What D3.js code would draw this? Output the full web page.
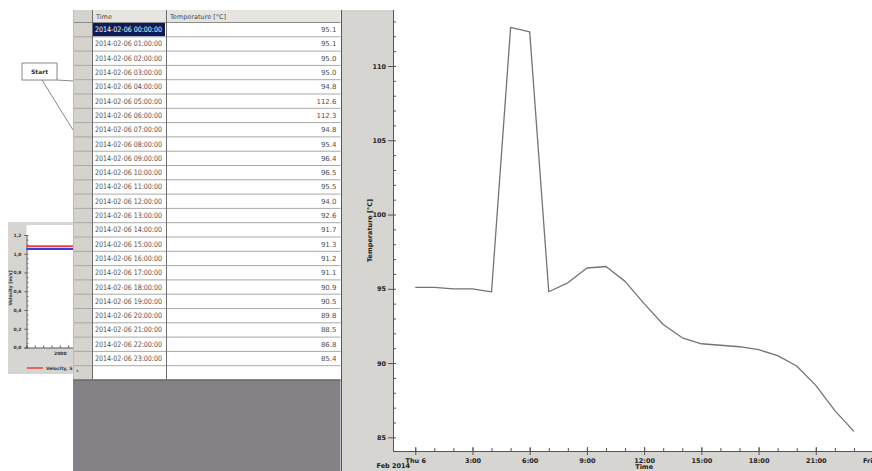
<!DOCTYPE html>
<html>
<head>
<meta charset="utf-8">
<script src="https://cdn.jsdelivr.net/npm/d3@7"></script>
<style>
  body { margin: 0; background: #fff; }
  svg { display: block; }
  text { font-family: "DejaVu Sans", sans-serif; }
</style>
</head>
<body>
<div id="chart"></div>
<script>
// table / series data
const times = [
  '2014-02-06 00:00:00', '2014-02-06 01:00:00', '2014-02-06 02:00:00', '2014-02-06 03:00:00',
  '2014-02-06 04:00:00', '2014-02-06 05:00:00', '2014-02-06 06:00:00', '2014-02-06 07:00:00',
  '2014-02-06 08:00:00', '2014-02-06 09:00:00', '2014-02-06 10:00:00', '2014-02-06 11:00:00',
  '2014-02-06 12:00:00', '2014-02-06 13:00:00', '2014-02-06 14:00:00', '2014-02-06 15:00:00',
  '2014-02-06 16:00:00', '2014-02-06 17:00:00', '2014-02-06 18:00:00', '2014-02-06 19:00:00',
  '2014-02-06 20:00:00', '2014-02-06 21:00:00', '2014-02-06 22:00:00', '2014-02-06 23:00:00'
]
const temps = [95.1, 95.1, 95.0, 95.0, 94.8, 112.6, 112.3, 94.8, 95.4, 96.4, 96.5, 95.5,
  94.0, 92.6, 91.7, 91.3, 91.2, 91.1, 90.9, 90.5, 89.8, 88.5, 86.8, 85.4]
const yMajorTicks = [85, 90, 95, 100, 105, 110]
const yMinorTicks = [85, 86, 87, 88, 89, 90, 91, 92, 93, 94, 95, 96, 97, 98, 99, 100,
  101, 102, 103, 104, 105, 106, 107, 108, 109, 110, 111, 112, 113]
const columns = ['Time', 'Temperature [°C]']

// small velocity chart on the left (partly hidden)
const velTicks = [0, 0.2, 0.4, 0.6, 0.8, 1.0, 1.2]
const velXTicks = [1200, 1400, 1600, 1800, 2000, 2200, 2400]
const velRed = [{x: 1200, v: 1.08}, {x: 2600, v: 1.08}]
const velBlue = [{x: 1200, v: 1.05}, {x: 2600, v: 1.05}]

const W = 872, H = 471
const panelGray = '#d7d5d1'
const parse = d3.timeParse('%Y-%m-%d %H:%M:%S')

const svg = d3.select('#chart').append('svg')
  .attr('width', W).attr('height', H)

svg.append('rect').attr('width', W).attr('height', H).attr('fill', '#fff')

// ---------- velocity chart ----------
const vel = svg.append('g')
vel.append('rect').attr('x', 8).attr('y', 222).attr('width', 70).attr('height', 152).attr('fill', panelGray)
vel.append('rect').attr('x', 26.5).attr('y', 225).attr('width', 50).attr('height', 123).attr('fill', '#fff')

const vy = d3.scaleLinear().domain([0, 1.2]).range([347.5, 235])
const vx = d3.scaleLinear().domain([1200, 2600]).range([26.5, 84.8])
const commaFmt = d3.formatLocale({decimal: ',', thousands: '.', grouping: [3], currency: ['', '']}).format('.1f')

const vyAxis = vel.append('g').attr('transform', 'translate(26.5,0)')
  .call(d3.axisLeft(vy).tickValues(velTicks).tickSize(2).tickFormat(commaFmt))
vyAxis.select('.domain').attr('stroke', '#555')
vyAxis.selectAll('line').attr('stroke', '#555')
vyAxis.selectAll('text').attr('font-size', 4.5).attr('font-weight', 'bold').attr('fill', '#333')
vel.append('g').attr('transform', 'translate(26.5,0)')
  .call(d3.axisRight(vy).ticks(24).tickSize(2).tickFormat(''))
  .call(g => g.select('.domain').remove())
  .selectAll('line').attr('stroke', '#777')

const vxAxis = vel.append('g').attr('transform', 'translate(0,347.5)')
  .call(d3.axisBottom(vx).tickValues(velXTicks).tickSize(-2)
    .tickFormat(d => d === 2000 ? '2000' : ''))
vxAxis.select('.domain').attr('stroke', '#555')
vxAxis.selectAll('line').attr('stroke', '#555')
vxAxis.selectAll('text').attr('font-size', 4.5).attr('font-weight', 'bold').attr('fill', '#333').attr('dy', '0.9em')

const vline = d3.line().x(d => vx(d.x)).y(d => vy(d.v))
vel.append('path').attr('d', vline(velRed)).attr('stroke', '#f03c46').attr('stroke-width', 2).attr('fill', 'none')
vel.append('path').attr('d', vline(velBlue)).attr('stroke', '#3c3cdc').attr('stroke-width', 2).attr('fill', 'none')

vel.append('text').attr('transform', 'translate(12,288) rotate(-90)')
  .attr('text-anchor', 'middle').attr('font-size', 4.5).attr('font-weight', 'bold').attr('fill', '#333')
  .text('Velocity [m/s]')
vel.append('line').attr('x1', 27).attr('x2', 43).attr('y1', 368).attr('y2', 368)
  .attr('stroke', '#f03c46').attr('stroke-width', 1.5)
vel.append('text').attr('x', 46).attr('y', 369.5).attr('font-size', 4.5).attr('font-weight', 'bold')
  .attr('fill', '#333').text('Velocity, S')

// ---------- Start callout ----------
const callout = svg.append('g')
callout.append('rect').attr('x', 23).attr('y', 64).attr('width', 35).attr('height', 17)
  .attr('fill', '#eee').attr('opacity', 0.6)
callout.append('rect').attr('x', 22).attr('y', 63).attr('width', 35).attr('height', 17)
  .attr('fill', '#fff').attr('stroke', '#8a8a8a')
callout.append('text').attr('x', 39.5).attr('y', 74).attr('text-anchor', 'middle')
  .attr('font-size', 6).attr('font-weight', 'bold').attr('fill', '#333').text('Start')
callout.append('line').attr('x1', 57).attr('y1', 80).attr('x2', 73).attr('y2', 81).attr('stroke', '#888')
callout.append('line').attr('x1', 42).attr('y1', 80).attr('x2', 73).attr('y2', 130).attr('stroke', '#888')

// ---------- table ----------
const table = {x: 73, top: 10, headH: 12, rowH: 14.3, selW: 19, timeW: 74, right: 340.5}
const rowTop = i => table.top + table.headH + i * table.rowH
const tbl = svg.append('g')
const nRows = times.length + 1
const tableBottom = rowTop(nRows)

tbl.append('rect').attr('x', table.x).attr('y', table.top)
  .attr('width', table.right - table.x).attr('height', tableBottom - table.top).attr('fill', '#fff')
// header
tbl.append('rect').attr('x', table.x).attr('y', table.top)
  .attr('width', table.right - table.x).attr('height', table.headH).attr('fill', '#e6e4e1')
// row selectors
tbl.append('rect').attr('x', table.x).attr('y', table.top)
  .attr('width', table.selW).attr('height', tableBottom - table.top).attr('fill', '#d6d3ce')
// selected cell
tbl.append('rect').attr('x', table.x + table.selW + 1).attr('y', rowTop(0) + 1)
  .attr('width', table.timeW - 2).attr('height', table.rowH - 1).attr('fill', '#0c1c58')

d3.range(nRows + 1).forEach(i => {
  tbl.append('line').attr('x1', table.x).attr('x2', table.right)
    .attr('y1', rowTop(i) + 0.5).attr('y2', rowTop(i) + 0.5)
    .attr('stroke', i === 0 ? '#8c8c8c' : '#a9a9a9')
})
;[table.x + table.selW, table.x + table.selW + table.timeW].forEach(x => {
  tbl.append('line').attr('x1', x + 0.5).attr('x2', x + 0.5)
    .attr('y1', table.top).attr('y2', tableBottom).attr('stroke', '#6e6e6e')
})
tbl.append('line').attr('x1', table.x + 0.5).attr('x2', table.x + 0.5)
  .attr('y1', table.top).attr('y2', tableBottom).attr('stroke', '#bbb')

tbl.append('text').attr('x', table.x + table.selW + 4).attr('y', table.top + 9)
  .attr('font-size', 6.5).attr('fill', '#444').text(columns[0])
tbl.append('text').attr('x', table.x + table.selW + table.timeW + 4).attr('y', table.top + 9)
  .attr('font-size', 6.5).attr('fill', '#444').text(columns[1])

tbl.selectAll('text.time').data(times).join('text')
  .attr('class', 'time')
  .attr('x', table.x + table.selW + 3)
  .attr('y', (d, i) => rowTop(i) + table.rowH / 2 + 3)
  .attr('font-size', 7.5)
  .attr('textLength', 67).attr('lengthAdjust', 'spacingAndGlyphs')
  .attr('fill', (d, i) => i === 0 ? '#fff' : '#505050')
  .text(d => d)

tbl.selectAll('text.temp').data(temps).join('text')
  .attr('class', 'temp')
  .attr('x', table.right - 4)
  .attr('y', (d, i) => rowTop(i) + table.rowH / 2 + 3)
  .attr('text-anchor', 'end')
  .attr('font-size', 7)
  .attr('fill', '#505050')
  .text(d => d.toFixed(1))

tbl.append('text').attr('x', table.x + 3).attr('y', rowTop(24) + 9)
  .attr('font-size', 6).attr('fill', '#444').text('*')

// dark empty area under table
svg.append('rect').attr('x', table.x).attr('y', tableBottom)
  .attr('width', table.right - table.x).attr('height', H - tableBottom).attr('fill', '#848187')
svg.append('line').attr('x1', table.x).attr('x2', table.right).attr('y1', tableBottom + 0.5).attr('y2', tableBottom + 0.5)
  .attr('stroke', '#5e5e5e')

// ---------- main chart ----------
const plot = {left: 393, right: 872, top: 10, bottom: 451}
svg.append('rect').attr('x', 341).attr('y', plot.top)
  .attr('width', W - 341).attr('height', H - plot.top).attr('fill', panelGray)
svg.append('line').attr('x1', 341.5).attr('x2', 341.5).attr('y1', plot.top).attr('y2', H)
  .attr('stroke', '#555')
svg.append('rect').attr('x', plot.left).attr('y', 0)
  .attr('width', plot.right - plot.left).attr('height', plot.bottom).attr('fill', '#fff')

const x = d3.scaleTime()
  .domain([new Date(2014, 1, 6, 0, -70), new Date(2014, 1, 7, 0, 0)])
  .range([plot.left, 873])
const y = d3.scaleLinear()
  .domain([84.08, 113.77])
  .range([plot.bottom, plot.top])

const xMajor = d3.timeHour.every(3).range(new Date(2014, 1, 6, 0), new Date(2014, 1, 7, 0, 1))
const xMinor = d3.timeHour.range(new Date(2014, 1, 6, 0), new Date(2014, 1, 7, 0, 1))
const fmtX = d => d.getHours() === 0 ? d3.timeFormat('%a')(d) + (d.getDate() === 6 ? ' 6' : '')
  : d3.timeFormat('%-H:%M')(d)

const axisColor = '#555'
const labelStyle = sel => sel.attr('font-size', 6.5).attr('font-weight', 'bold').attr('fill', '#222')

// y axis
const yAx = svg.append('g').attr('transform', `translate(${plot.left},0)`)
  .call(d3.axisLeft(y).tickValues(yMajorTicks).tickSize(5).tickPadding(2).tickFormat(d3.format('d')))
yAx.select('.domain').attr('stroke', axisColor).attr('d', `M0.5,${plot.top}V${plot.bottom}`)
yAx.selectAll('line').attr('stroke', axisColor)
yAx.selectAll('text').call(labelStyle)
svg.append('g').attr('transform', `translate(${plot.left},0)`)
  .call(d3.axisRight(y).tickValues(yMinorTicks).tickSize(3).tickFormat(''))
  .call(g => g.select('.domain').remove())
  .selectAll('line').attr('stroke', axisColor)

// x axis
const xAx = svg.append('g').attr('transform', `translate(0,${plot.bottom})`)
  .call(d3.axisBottom(x).tickValues(xMajor).tickSize(4).tickPadding(3).tickFormat(fmtX))
xAx.select('.domain').attr('stroke', axisColor).attr('d', `M${plot.left},0.5H${plot.right}`)
xAx.selectAll('line').attr('stroke', axisColor).attr('y1', -4)
xAx.selectAll('text').call(labelStyle)
// last label sits at the right edge: keep it inside the picture
xAx.selectAll('.tick:last-of-type text').attr('text-anchor', 'end').attr('x', -1)
svg.append('g').attr('transform', `translate(0,${plot.bottom})`)
  .call(d3.axisTop(x).tickValues(xMinor).tickSize(3).tickFormat(''))
  .call(g => g.select('.domain').remove())
  .selectAll('line').attr('stroke', axisColor)

svg.append('text').attr('x', x(new Date(2014, 1, 6, 0)) - 22).attr('y', 468)
  .attr('text-anchor', 'middle').call(labelStyle).text('Feb 2014')
svg.append('text').attr('x', x(new Date(2014, 1, 6, 12))).attr('y', 469)
  .attr('text-anchor', 'middle').call(labelStyle).text('Time')
svg.append('text').attr('transform', `translate(372,${(plot.top + plot.bottom) / 2}) rotate(-90)`)
  .attr('text-anchor', 'middle').call(labelStyle).text('Temperature [°C]')

// temperature line
const series = times.map((t, i) => ({date: parse(t), value: temps[i]}))
svg.append('path')
  .datum(series)
  .attr('d', d3.line().x(d => x(d.date)).y(d => y(d.value)))
  .attr('fill', 'none')
  .attr('stroke', '#747474')
  .attr('stroke-width', 1.3)
  .attr('stroke-linejoin', 'round')
</script>
</body>
</html>
